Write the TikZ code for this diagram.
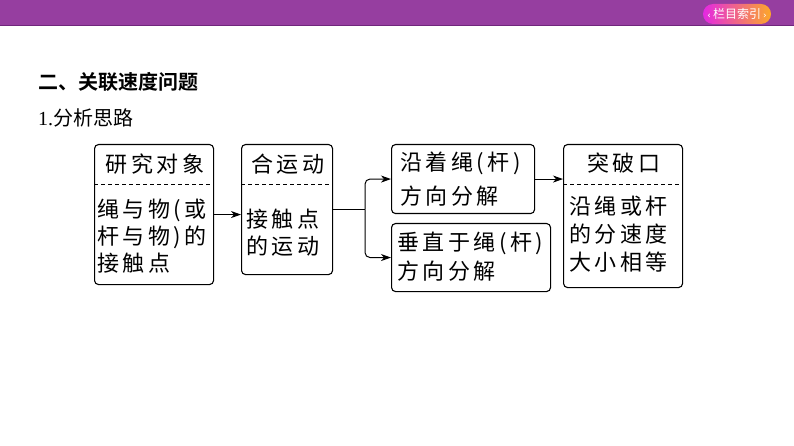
\documentclass[tikz,border=0pt]{standalone}
\usepackage{fontspec}
\setmainfont{Liberation Serif}
\newfontfamily\cjk{Noto Sans CJK SC}[BoldFont={Noto Sans CJK SC Bold}]
\newfontfamily\boxfont{Noto Sans CJK SC}[LetterSpace=16]
\newfontfamily\symfont{DejaVu Sans}
\usetikzlibrary{arrows, arrows.meta}
\definecolor{barpurple}{RGB}{150,62,160}
\definecolor{barline}{RGB}{112,38,124}
\definecolor{btnpink}{RGB}{228,40,226}
\definecolor{btnorange}{RGB}{252,168,40}
\tikzstyle{arrow}= [line width=1pt,-{Stealth[length=10pt,width=7pt,inset=3pt]}]
\tikzstyle{link} = [line width=1pt]
\tikzstyle{box} = [rectangle, rounded corners=4pt, draw=black, line width=1.1pt, anchor=north west, inner sep=0pt]
\tikzstyle{divider} = [dashed, line width=0.9pt, dash pattern=on 4pt off 3pt]
\tikzstyle{head} = [inner sep=0pt, font=\boxfont\fontsize{22}{27}\selectfont]
\tikzstyle{body} = [inner sep=0pt, anchor=north west, align=left, font=\boxfont\fontsize{22}{27}\selectfont]

\begin{document}
\begin{tikzpicture}[x=1pt,y=-1pt]
\useasboundingbox (0,0) rectangle (794,446);
% top bar
\fill[barpurple] (0,0) rectangle (794,26);
\draw[barline, line width=1.2pt] (0,25.4) -- (794,25.4);
\node (index) [rectangle, rounded corners=10pt, left color=btnpink, right color=btnorange, minimum width=68pt, minimum height=20pt, inner sep=0pt, text=white, font=\cjk\fontsize{12}{13}\selectfont] at (737,14) {{\symfont\fontsize{9}{10}\selectfont‹}\,栏目索引\,{\symfont\fontsize{9}{10}\selectfont›}};
% headings
\node (sec) [anchor=west, inner sep=0pt, font=\cjk\bfseries\fontsize{20}{24}\selectfont] at (38,82) {二、关联速度问题};
\node (sub) [anchor=west, inner sep=0pt, font=\fontsize{20}{24}\selectfont] at (38,118) {1.{\cjk 分析思路}};
% boxes
\coordinate (cut) at (0,184);
\node (obj) [box, minimum width=119pt, minimum height=140pt] at (94,144) {};
\node (mot) [box, minimum width=91pt, minimum height=130pt] at (241,144) {};
\node (along) [box, minimum width=143pt, minimum height=69pt] at (391,144) {};
\node (perp) [box, minimum width=159pt, minimum height=68pt] at (391,223) {};
\node (key) [box, minimum width=119pt, minimum height=143pt] at (563,144) {};
\draw[divider] (obj.west |- cut) -- (obj.east |- cut);
\draw[divider] (mot.west |- cut) -- (mot.east |- cut);
\draw[divider] (key.west |- cut) -- (key.east |- cut);
% texts
\node (objh) [head] at (155,164) {研究对象};
\node (objb) [body] at (97,199) {绳与物(或\\杆与物)的\\接触点};
\node (moth) [head] at (288,164) {合运动};
\node (motb) [body] at (246,209) {接触点\\的运动};
\node (alongb) [body, font=\boxfont\fontsize{22}{34}\selectfont] at (400,152) {沿着绳(杆)\\方向分解};
\node (perpb) [body, font=\boxfont\fontsize{22}{29}\selectfont] at (397,232) {垂直于绳(杆)\\方向分解};
\node (keyh) [head] at (624,163) {突破口};
\node (keyb) [body, font=\boxfont\fontsize{22}{28}\selectfont] at (569,196) {沿绳或杆\\的分速度\\大小相等};
% connectors
\coordinate (fork) at (365,0);
\draw [arrow] (obj.east) -- (obj.east -| mot.west);
\draw [link] (mot.east) -- (mot.east -| fork);
\draw [arrow, rounded corners=5pt] (mot.east -| fork) |- (along.west);
\draw [arrow, rounded corners=5pt] (mot.east -| fork) |- (perp.west);
\draw [arrow] (along.east) -- (along.east -| key.west);
\end{tikzpicture}
\end{document}
